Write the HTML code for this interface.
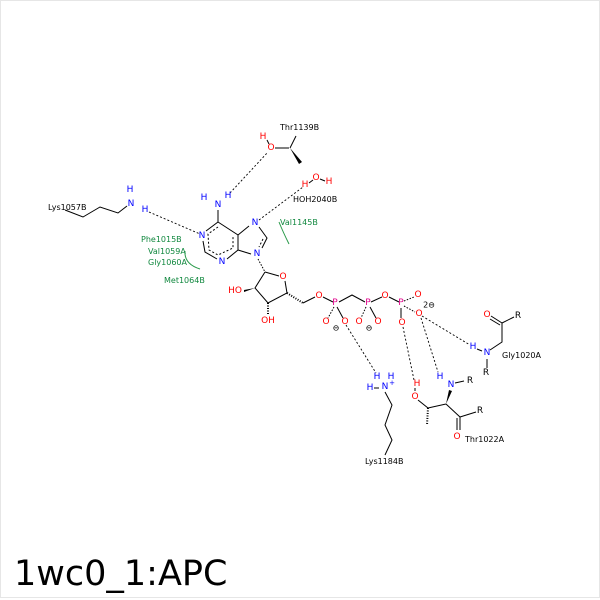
<!DOCTYPE html>
<html><head><meta charset="utf-8"><style>
html,body{margin:0;padding:0;background:#fff;}
svg{display:block;}
text{font-family:"DejaVu Sans","Liberation Sans",sans-serif;}
</style></head><body>
<svg width="600" height="600" viewBox="0 0 600 600" xmlns="http://www.w3.org/2000/svg">
<rect x="0.5" y="0.5" width="599" height="597" fill="#fff" stroke="#e6e6e6"/>
<g stroke="#000" stroke-width="1" fill="none">
<polyline points="65,210 83,217 100,207 118,213 127,206"/>
<line x1="218" y1="210" x2="218" y2="222"/>
<polyline points="218,222 206,231"/>
<polyline points="203,241 205,252 217,259"/>
<polyline points="227,259 238,250 238,235 218,222"/>
<line x1="238" y1="235" x2="249" y2="226"/>
<polyline points="259,227 267,238 262,248"/>
<line x1="238" y1="250" x2="251" y2="254"/>
<polyline points="218,227 208,234 209,250 218,255 233,248 233,237" stroke-dasharray="2,2"/>
<line x1="263" y1="239" x2="259" y2="247" stroke-dasharray="2,2"/>
<line x1="258" y1="259" x2="265" y2="272" stroke-dasharray="1.5,1.5"/>
<polyline points="265,272 279,276"/>
<polyline points="285,281 287,293 268,303 255,288 265,272"/>
<line x1="287" y1="293" x2="303" y2="303" stroke-dasharray="1,1.5" stroke-width="2"/>
<line x1="303" y1="303" x2="315" y2="297"/>
<line x1="323" y1="297" x2="333" y2="302"/>
<line x1="268" y1="303" x2="268" y2="314" stroke-dasharray="1,1.5" stroke-width="2"/>
<polyline points="339,302 352,295 365,302"/>
<line x1="371" y1="302" x2="382" y2="297"/>
<line x1="389" y1="297" x2="399" y2="302"/>
<line x1="404" y1="301" x2="414" y2="297" stroke-dasharray="1.5,1.5"/>
<line x1="334" y1="307" x2="328" y2="318" stroke-dasharray="1.5,1.5"/>
<line x1="337" y1="307" x2="343" y2="318"/>
<line x1="366" y1="307" x2="361" y2="318" stroke-dasharray="1.5,1.5"/>
<line x1="370" y1="307" x2="376" y2="318"/>
<line x1="401" y1="308" x2="401" y2="318"/>
<line x1="404" y1="306" x2="415" y2="312" stroke-dasharray="1.5,1.5"/>
<line x1="275" y1="148" x2="289" y2="148"/>
<line x1="290" y1="148" x2="296" y2="136"/>
<line x1="267" y1="140" x2="269" y2="144"/>
<line x1="309" y1="183" x2="313" y2="180"/>
<line x1="320" y1="179" x2="325" y2="181"/>
<polyline points="490,350 502,342 502,323 491,316"/>
<line x1="502" y1="323" x2="514" y2="317"/>
<line x1="500" y1="325" x2="490" y2="319"/>
<line x1="487" y1="359" x2="487" y2="368"/>
<line x1="477" y1="349" x2="482" y2="351"/>
<polyline points="385,392 392,405 385,425 392,440 385,455"/>
<line x1="374" y1="388" x2="379" y2="388"/>
<polyline points="418,400 428,408"/>
<line x1="428" y1="408" x2="446" y2="404"/>
<line x1="446" y1="404" x2="460" y2="417"/>
<line x1="460" y1="417" x2="476" y2="412"/>
<line x1="460" y1="417" x2="460" y2="430"/>
<line x1="457" y1="418" x2="457" y2="430"/>
<line x1="455" y1="383" x2="464" y2="381"/>
<line x1="428" y1="408" x2="427" y2="425" stroke-dasharray="1,1.5" stroke-width="2"/>
<line x1="415" y1="388" x2="415" y2="391"/>
</g>
<polygon points="290,148 302,162 299,164" fill="#000"/>
<polygon points="446,404 449,390 452,391" fill="#000"/>
<polygon points="255,288 244,290 244,292" fill="#000"/>
<g stroke="#000" stroke-width="0.9" stroke-dasharray="2,2" fill="none">
<line x1="149" y1="212" x2="200" y2="234"/>
<line x1="230" y1="193" x2="268" y2="152"/>
<line x1="259" y1="220" x2="303" y2="187"/>
<line x1="346" y1="325" x2="376" y2="373"/>
<line x1="403" y1="327" x2="414" y2="380"/>
<line x1="421" y1="318" x2="438" y2="372"/>
<line x1="422" y1="316" x2="470" y2="345"/>
</g>
<g stroke="#2a9a4a" stroke-width="1" fill="none">
<path d="M279,222 Q283,232 289,244"/>
<path d="M185,251 Q184,264 200,269"/>
</g>
<g font-size="8" fill="#000">
<text x="48" y="210">Lys1057B</text>
<text x="280" y="130">Thr1139B</text>
<text x="293" y="202">HOH2040B</text>
<text x="502" y="358">Gly1020A</text>
<text x="365" y="464">Lys1184B</text>
<text x="465" y="442">Thr1022A</text>
</g>
<g font-size="8" fill="#11883f">
<text x="280" y="225">Val1145B</text>
<text x="141" y="242">Phe1015B</text>
<text x="148" y="254">Val1059A</text>
<text x="148" y="265">Gly1060A</text>
<text x="164" y="283">Met1064B</text>
</g>
<g font-size="9" text-anchor="middle" dominant-baseline="central">
<g fill="#0000ff">
<text x="131" y="204">N</text><text x="130" y="190">H</text><text x="145" y="210">H</text>
<text x="218" y="205">N</text><text x="204" y="198">H</text><text x="228" y="196">H</text>
<text x="202" y="236">N</text><text x="222" y="262">N</text><text x="255" y="223">N</text><text x="257" y="254">N</text>
<text x="487" y="353">N</text><text x="473" y="347">H</text>
<text x="385" y="387">N</text><text x="392" y="383" font-size="7">+</text><text x="377" y="377">H</text><text x="391" y="377">H</text><text x="370" y="388">H</text>
<text x="451" y="385">N</text><text x="440" y="377">H</text>
</g>
<g fill="#ff0000">
<text x="271" y="148">O</text><text x="263" y="137">H</text>
<text x="316" y="178">O</text><text x="305" y="185">H</text><text x="329" y="182">H</text>
<text x="283" y="277">O</text><text x="319" y="296">O</text>
<text x="235" y="291">HO</text><text x="268" y="321">OH</text>
<text x="385" y="296">O</text><text x="418" y="295">O</text>
<text x="326" y="322">O</text><text x="345" y="322">O</text><text x="359" y="322">O</text><text x="378" y="322">O</text>
<text x="402" y="323">O</text><text x="419" y="314">O</text>
<text x="487" y="315">O</text>
<text x="415" y="397">O</text><text x="417" y="384">H</text>
<text x="457" y="437">O</text>
</g>
<g fill="#e0008a">
<text x="335" y="303">P</text><text x="368" y="303">P</text><text x="401" y="303">P</text>
</g>
<g fill="#000">
<text x="518" y="316">R</text><text x="486" y="373">R</text><text x="470" y="381">R</text><text x="480" y="411">R</text>
<text x="336" y="328" font-size="8">⊖</text><text x="369" y="328" font-size="8">⊖</text><text x="429" y="305" font-size="8">2⊖</text>
</g>
</g>
<text x="14" y="585" font-size="35" fill="#000" style="font-family:'DejaVu Sans',sans-serif">1wc0_1:APC</text>
</svg>
</body></html>
